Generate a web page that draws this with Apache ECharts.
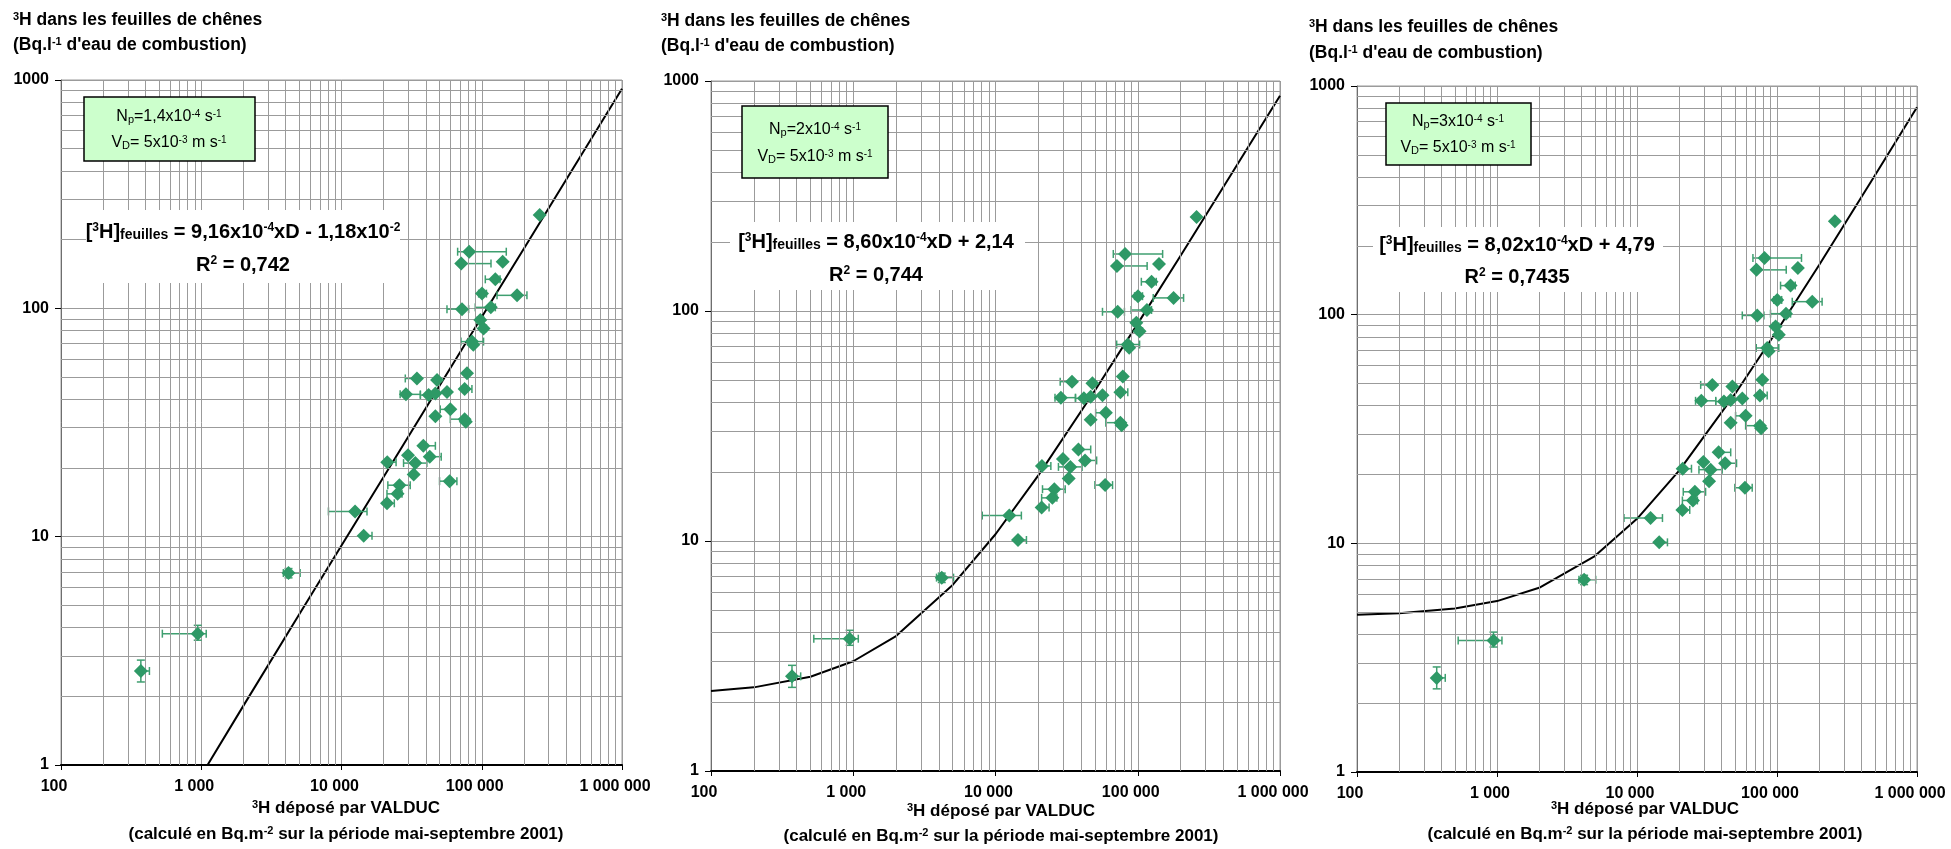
<!DOCTYPE html>
<html>
<head>
<meta charset="utf-8">
<script src="https://cdn.jsdelivr.net/npm/echarts@6/dist/echarts.min.js"></script>
<style>
html,body{margin:0;padding:0;background:#fff;}
#c{width:1951px;height:849px;}
</style>
</head>
<body>
<div id="c"></div>
<script>
const FONT = '"Liberation Sans", Arial, sans-serif';

// ---- measured points (same observations in the three panels) ----
const depositX = [259000, 81400, 71400, 141000, 125000, 100400, 178500, 72300, 116000, 97700,
  103000, 85100, 87100, 34500, 48000, 78500, 28800, 41800, 46700, 56500,
  75500, 59700, 46700, 75500, 77000, 38300, 29800, 42600, 21200, 33600,
  32700, 59000, 25900, 25100, 21100, 12500, 14400, 4190, 944, 371];
const leafH3 = [256, 177, 157, 160, 134, 116, 114, 99.2, 101, 88.8,
  81.7, 71.5, 69.2, 49.3, 48.5, 51.9, 42, 41.7, 42.4, 43,
  44.3, 36.1, 33.7, 32.7, 31.9, 25, 22.7, 22.4, 21.2, 21,
  18.7, 17.5, 16.8, 15.4, 14.0, 12.9, 10.1, 6.93, 3.76, 2.58];
const xErrLow = [259000, 67300, 71400, 141000, 106000, 95000, 128500, 56500, 89900, 93000,
  98000, 71100, 87100, 28500, 48000, 78500, 26200, 36500, 46700, 56500,
  75500, 50600, 46700, 59700, 77000, 38300, 29800, 42600, 21200, 27700,
  32700, 50000, 21400, 21100, 21100, 8070, 14400, 3850, 528, 360];
const xErrHigh = [259000, 149600, 116400, 141000, 135000, 108000, 210000, 80600, 125000, 103000,
  108000, 103000, 87100, 34500, 48000, 78500, 36500, 41800, 46700, 56500,
  85100, 59700, 46700, 75500, 77000, 46700, 29800, 51400, 24500, 40600,
  32700, 66500, 30900, 27000, 23800, 15200, 16500, 5070, 1085, 427];
const yErrLow = [256, 177, 157, 160, 134, 116, 114, 99.2, 101, 88.8,
  81.7, 71.5, 69.2, 49.3, 48.5, 51.9, 42, 41.7, 42.4, 43,
  44.3, 36.1, 33.7, 32.7, 31.9, 25, 22.7, 22.4, 21.2, 21,
  18.7, 17.5, 16.8, 15.4, 14.0, 12.9, 10.1, 6.6, 3.52, 2.31];
const yErrHigh = [256, 177, 157, 160, 134, 116, 114, 99.2, 101, 88.8,
  81.7, 71.5, 69.2, 49.3, 48.5, 51.9, 42, 41.7, 42.4, 43,
  44.3, 36.1, 33.7, 32.7, 31.9, 25, 22.7, 22.4, 21.2, 21,
  18.7, 17.5, 16.8, 15.4, 14.0, 12.9, 10.1, 7.25, 4.09, 2.88];

// ---- model curves (one per panel) ----
const modelX = [100, 200, 500, 1000, 2000, 5000, 10000, 20000, 50000, 100000, 200000, 500000, 1000000];
const modelNp14 = [0.080, 0.17, 0.45, 0.90, 1.82, 4.57, 9.15, 18.3, 45.8, 91.6, 183, 458, 916];
const modelNp2  = [2.23, 2.31, 2.57, 3.00, 3.86, 6.44, 10.7, 19.3, 45.1, 88.1, 174, 432, 862];
const modelNp3  = [4.87, 4.95, 5.19, 5.59, 6.39, 8.80, 12.8, 20.8, 44.9, 85.0, 165, 406, 807];

// ---- tick labels ----
const xTickValues = [100, 1000, 10000, 100000, 1000000];
const xTickLabels = ['100', '1 000', '10 000', '100 000', '1 000 000'];
const yTickValues = [1, 10, 100, 1000];
const yTickLabels = ['1', '10', '100', '1000'];

// ---- texts ----
const npLabels = ['1,4x10{sup|-4}', '2x10{sup|-4}', '3x10{sup|-4}'];
const equations = [
  '[{sup|3}H]{sub|feuilles} = 9,16x10{sup|-4}xD - 1,18x10{sup|-2}',
  '[{sup|3}H]{sub|feuilles} = 8,60x10{sup|-4}xD + 2,14',
  '[{sup|3}H]{sub|feuilles} = 8,02x10{sup|-4}xD + 4,79'
];
const r2Labels = ['0,742', '0,744', '0,7435'];
const models = [modelNp14, modelNp2, modelNp3];

// ---- layout (pixels) ----
const grids = [
  {left: 61, top: 80, width: 561, height: 685},
  {left: 711, top: 81, width: 569, height: 690},
  {left: 1357, top: 86, width: 560, height: 686}
];
const layout = [
  {tx: 13, ty1: 20, ty2: 45, box: [84, 97, 171, 64], bcx: 169, by1: 117, by2: 143,
   eq: [86, 210, 314, 73], ecx: 243, ey1: 232, ey2: 265, acx: 346, ay1: 808, ay2: 834},
  {tx: 661, ty1: 21, ty2: 46, box: [742, 106, 146, 72], bcx: 815, by1: 130, by2: 157,
   eq: [730, 222, 295, 68], ecx: 876, ey1: 242, ey2: 275, acx: 1001, ay1: 811, ay2: 836},
  {tx: 1309, ty1: 27, ty2: 53, box: [1386, 103, 145, 62], bcx: 1458, by1: 122, by2: 148,
   eq: [1373, 227, 290, 65], ecx: 1517, ey1: 245, ey2: 277, acx: 1645, ay1: 809, ay2: 834}
];

const GRID_COLOR = '#9b9b9b';
const GREEN = '#2e9966';
const ERR_GREEN = '#3f9f70';

// minor grid values (2..9 in each decade)
const minorX = [], minorY = [];
[100, 1000, 10000, 100000].forEach(d => { for (let k = 2; k <= 9; k++) minorX.push(d * k); });
[1, 10, 100].forEach(d => { for (let k = 2; k <= 9; k++) minorY.push(d * k); });

const errData = depositX.map((x, i) => [x, leafH3[i], xErrLow[i], xErrHigh[i], yErrLow[i], yErrHigh[i]]);
const ptData = depositX.map((x, i) => [x, leafH3[i]]);

function richSet(size, weight) {
  return {
    sup: {fontSize: Math.round(size * 0.62), fontWeight: weight, fontFamily: FONT, verticalAlign: 'top', fill: '#000'},
    sub: {fontSize: Math.round(size * 0.7), fontWeight: weight, fontFamily: FONT, verticalAlign: 'bottom', fill: '#000'}
  };
}
function textEl(x, y, text, size, weight, align) {
  return {
    type: 'text', x: x, y: y, z: 100, silent: true,
    style: {
      text: text, fontSize: size, fontWeight: weight, fontFamily: FONT, fill: '#000',
      align: align, textAlign: align, verticalAlign: 'middle', textVerticalAlign: 'middle',
      rich: richSet(size, weight)
    }
  };
}

const xAxes = [], yAxes = [], series = [], graphics = [];
grids.forEach((g, i) => {
  xAxes.push({
    type: 'log', logBase: 10, gridIndex: i, min: 100, max: 1000000,
    axisLine: {show: true, lineStyle: {color: '#000', width: 2}},
    axisTick: {show: true, length: 5, lineStyle: {color: '#000', width: 1}},
    axisLabel: {
      fontSize: 16, fontWeight: 'bold', fontFamily: FONT, color: '#000', margin: 14,
      padding: [0, 14, 0, 0],
      formatter: v => { const k = xTickValues.indexOf(Math.round(v)); return k >= 0 ? xTickLabels[k] : ''; }
    },
    splitLine: {show: true, lineStyle: {color: GRID_COLOR, width: 1}}
  });
  yAxes.push({
    type: 'log', logBase: 10, gridIndex: i, min: 1, max: 1000,
    axisLine: {show: true, lineStyle: {color: '#6e6e6e', width: 1}},
    axisTick: {show: true, length: 6, lineStyle: {color: '#000', width: 1}},
    axisLabel: {
      fontSize: 16, fontWeight: 'bold', fontFamily: FONT, color: '#000', margin: 12,
      formatter: v => { const k = yTickValues.indexOf(Math.round(v)); return k >= 0 ? yTickLabels[k] : ''; }
    },
    splitLine: {show: true, lineStyle: {color: GRID_COLOR, width: 1}}
  });

  // minor grid lines
  series.push({
    type: 'line', xAxisIndex: i, yAxisIndex: i, data: [], z: 1, silent: true,
    markLine: {
      silent: true, animation: false, symbol: ['none', 'none'],
      label: {show: false},
      lineStyle: {color: GRID_COLOR, width: 1, type: 'solid'},
      emphasis: {disabled: true},
      data: minorX.map(v => ({xAxis: v})).concat(minorY.map(v => ({yAxis: v})))
    }
  });
  // model line
  series.push({
    type: 'line', xAxisIndex: i, yAxisIndex: i, z: 3, silent: true,
    symbol: 'none', showSymbol: false, clip: true,
    lineStyle: {color: '#000', width: 2},
    data: modelX.map((x, j) => [x, models[i][j]])
  });
  // error bars
  series.push({
    type: 'custom', xAxisIndex: i, yAxisIndex: i, z: 4, silent: true,
    encode: {x: 0, y: 1},
    data: errData,
    renderItem: function (params, api) {
      const x = api.value(0), y = api.value(1);
      const xl = api.value(2), xh = api.value(3), yl = api.value(4), yh = api.value(5);
      const st = {stroke: ERR_GREEN, lineWidth: 1.5, fill: null};
      const children = [];
      const cap = 4;
      if (xl < xh) {
        const a = api.coord([xl, y]), b = api.coord([xh, y]);
        children.push({type: 'line', shape: {x1: a[0], y1: a[1], x2: b[0], y2: b[1]}, style: st});
        if (xl < x) children.push({type: 'line', shape: {x1: a[0], y1: a[1] - cap, x2: a[0], y2: a[1] + cap}, style: st});
        if (xh > x) children.push({type: 'line', shape: {x1: b[0], y1: b[1] - cap, x2: b[0], y2: b[1] + cap}, style: st});
      }
      if (yl < yh) {
        const a = api.coord([x, yl]), b = api.coord([x, yh]);
        children.push({type: 'line', shape: {x1: a[0], y1: a[1], x2: b[0], y2: b[1]}, style: st});
        if (yl < y) children.push({type: 'line', shape: {x1: a[0] - cap, y1: a[1], x2: a[0] + cap, y2: a[1]}, style: st});
        if (yh > y) children.push({type: 'line', shape: {x1: b[0] - cap, y1: b[1], x2: b[0] + cap, y2: b[1]}, style: st});
      }
      return {type: 'group', children: children};
    }
  });
  // points
  series.push({
    type: 'scatter', xAxisIndex: i, yAxisIndex: i, z: 5, silent: true,
    symbol: 'diamond', symbolSize: [14, 14],
    itemStyle: {color: GREEN, opacity: 1},
    data: ptData
  });

  const L = layout[i];
  // axis titles
  graphics.push(textEl(L.tx, L.ty1, '{sup|3}H dans les feuilles de chênes', 17.5, 'bold', 'left'));
  graphics.push(textEl(L.tx, L.ty2, '(Bq.l{sup|-1} d\'eau de combustion)', 17.5, 'bold', 'left'));
  graphics.push(textEl(L.acx, L.ay1, '{sup|3}H déposé par VALDUC', 17, 'bold', 'center'));
  graphics.push(textEl(L.acx, L.ay2, '(calculé en Bq.m{sup|-2} sur la période mai-septembre 2001)', 17, 'bold', 'center'));
  // parameter box
  graphics.push({type: 'rect', z: 99, silent: true,
    shape: {x: L.box[0], y: L.box[1], width: L.box[2], height: L.box[3]},
    style: {fill: '#ccffcc', stroke: '#000', lineWidth: 1.5}});
  graphics.push(textEl(L.bcx, L.by1, 'N{sub|p}=' + npLabels[i] + ' s{sup|-1}', 16, 'normal', 'center'));
  graphics.push(textEl(L.bcx, L.by2, 'V{sub|D}= 5x10{sup|-3} m s{sup|-1}', 16, 'normal', 'center'));
  // equation block
  graphics.push({type: 'rect', z: 99, silent: true,
    shape: {x: L.eq[0], y: L.eq[1], width: L.eq[2], height: L.eq[3]},
    style: {fill: '#fff', stroke: null}});
  graphics.push(textEl(L.ecx, L.ey1, equations[i], 20, 'bold', 'center'));
  graphics.push(textEl(L.ecx, L.ey2, 'R{sup|2} = ' + r2Labels[i], 20, 'bold', 'center'));
});

const chart = echarts.init(document.getElementById('c'), null, {renderer: 'canvas', width: 1951, height: 849});
chart.setOption({
  animation: false,
  backgroundColor: '#fff',
  grid: grids.map(g => Object.assign({show: true, borderColor: GRID_COLOR, borderWidth: 1, containLabel: false}, g)),
  xAxis: xAxes,
  yAxis: yAxes,
  series: series,
  graphic: {elements: graphics}
});
</script>
</body>
</html>
